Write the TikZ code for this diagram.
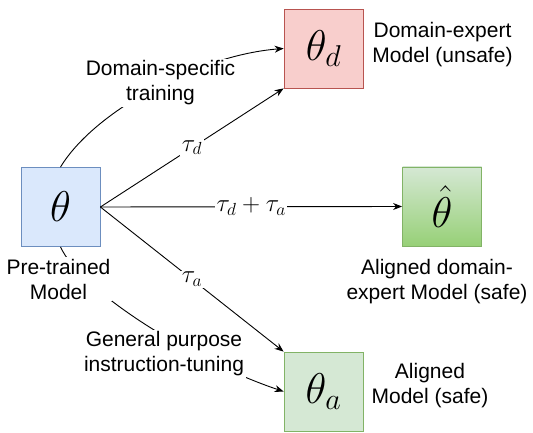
\documentclass[tikz,border=0pt]{standalone}
\usepackage{fix-cm}
\usepackage{fontspec}
\setmainfont{Liberation Sans}
\usetikzlibrary{arrows.meta}

\definecolor{preFill}{HTML}{DAE8FC}
\definecolor{preLine}{HTML}{6C8EBF}
\definecolor{expFill}{HTML}{F8CECC}
\definecolor{expLine}{HTML}{B85450}
\definecolor{safeFill}{HTML}{D5E8D4}
\definecolor{safeDark}{HTML}{97D077}
\definecolor{safeLine}{HTML}{82B366}

\begin{document}
\begin{tikzpicture}[x=1pt,y=-1pt,
  model/.style={draw, minimum width=79pt, minimum height=79pt, inner sep=0pt,
    line width=0.8pt, font=\fontsize{43}{43}\selectfont},
  caption/.style={align=center, inner sep=2pt, font=\fontsize{21}{25}\selectfont},
  edge/.style={-{Stealth[length=9pt,width=7pt]}, line width=0.9pt},
  vec/.style={fill=white, inner sep=1.5pt, font=\fontsize{25}{25}\selectfont}]
\useasboundingbox (0,0) rectangle (533,433);

\node[model, fill=preFill, draw=preLine] (pre) at (60.5,207) {$\theta$};
\node[model, fill=expFill, draw=expLine] (thd) at (323.5,48.5) {$\theta_d$};
\node[model, top color=safeFill, bottom color=safeDark, draw=safeLine] (merged) at (442,206.5) {$\hat{\theta}$};
\node[model, fill=safeFill, draw=safeLine] (tha) at (323.5,391.5) {$\theta_a$};

\draw[edge] (pre.north) .. controls (95,110) and (200,55) .. (thd.west);
\draw[edge] (pre.south) .. controls (80,290) and (190,360) .. (tha.west);

\draw[edge] (pre.east) -- node[vec] {$\tau_d$} (thd.south west);
\draw[edge] (pre.east) -- node[vec] {$\tau_d+\tau_a$} (merged.west);
\draw[edge] (pre.east) -- node[vec] {$\tau_a$} (tha.north west);

\node[caption, fill=white] (train) at (160.5,83) {Domain-specific\\training};
\node[caption, fill=white] (preLabel) at (58.5,279) {Pre-trained\\Model};
\node[caption, fill=white] (tune) at (164,354) {General purpose\\instruction-tuning};
\node[caption] (expLabel) at (442.5,45) {Domain-expert\\Model (unsafe)};
\node[caption] (mergedLabel) at (437,282) {Aligned domain-\\expert Model (safe)};
\node[caption] (safeLabel) at (430,386) {Aligned\\Model (safe)};
\end{tikzpicture}
\end{document}
